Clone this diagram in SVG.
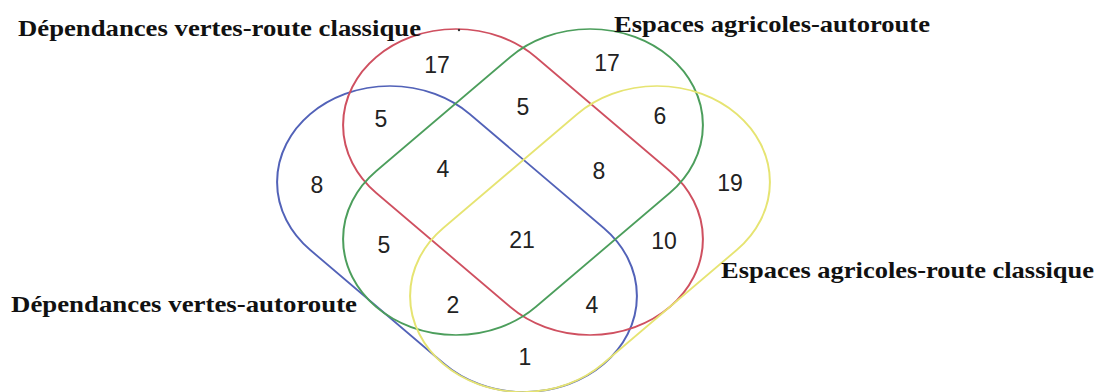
<svg xmlns="http://www.w3.org/2000/svg" width="1102" height="392" viewBox="0 0 1102 392">
  <style>
    .set { fill: none; stroke-width: 1.7; vector-effect: non-scaling-stroke; }
    .lbl { font-family: "Liberation Serif", "Times New Roman", serif; font-weight: bold; font-size: 24px; fill: #111; }
    .num { font-family: "Liberation Sans", Arial, sans-serif; font-size: 23px; fill: #222; text-anchor: middle; }
  </style>
  <defs>
    <rect id="capsule" x="-176.6" y="-96" width="353.2" height="192" rx="96" ry="96"/>
  </defs>
  <rect width="1102" height="392" fill="#ffffff"/>

  <g id="set-dv-autoroute">
    <use href="#capsule" class="set" stroke="#5262b8" transform="translate(457,239) scale(1.176,1) rotate(45)"/>
    <text class="lbl" x="11" y="312" textLength="346" lengthAdjust="spacingAndGlyphs">Dépendances vertes-autoroute</text>
  </g>

  <g id="set-dv-route-classique">
    <use href="#capsule" class="set" stroke="#cf5060" transform="translate(523,182) scale(1.176,1) rotate(45)"/>
    <text class="lbl" x="18" y="36" textLength="403" lengthAdjust="spacingAndGlyphs">Dépendances vertes-route classique</text>
  </g>

  <g id="set-ea-autoroute">
    <use href="#capsule" class="set" stroke="#4c9e5c" transform="translate(523,182) scale(1.176,1) rotate(-45)"/>
    <text class="lbl" x="614" y="32" textLength="316" lengthAdjust="spacingAndGlyphs">Espaces agricoles-autoroute</text>
  </g>

  <g id="set-ea-route-classique">
    <use href="#capsule" class="set" stroke="#e6e472" transform="translate(590,239) scale(1.176,1) rotate(-45)"/>
    <text class="lbl" x="721" y="278" textLength="373" lengthAdjust="spacingAndGlyphs">Espaces agricoles-route classique</text>
  </g>

  <g id="counts">
    <text class="num" x="437" y="73">17</text>
    <text class="num" x="607" y="71">17</text>
    <text class="num" x="381" y="127">5</text>
    <text class="num" x="523" y="115">5</text>
    <text class="num" x="660" y="124">6</text>
    <text class="num" x="443" y="177">4</text>
    <text class="num" x="599" y="179">8</text>
    <text class="num" x="317" y="193">8</text>
    <text class="num" x="730" y="191">19</text>
    <text class="num" x="384" y="253">5</text>
    <text class="num" x="522" y="248">21</text>
    <text class="num" x="664" y="249">10</text>
    <text class="num" x="453" y="313">2</text>
    <text class="num" x="592" y="313">4</text>
    <text class="num" x="525" y="365">1</text>
  </g>

  <circle cx="459" cy="30" r="1.2" fill="#333"/>
</svg>
